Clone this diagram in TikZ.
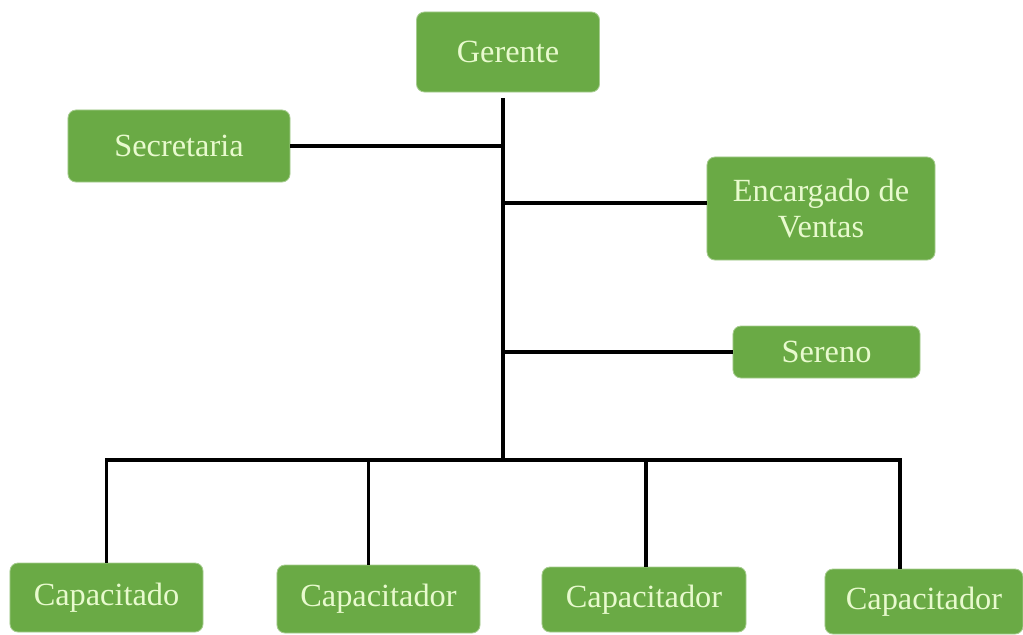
\documentclass[tikz,border=0pt]{standalone}
\usepackage{fontspec}
\setmainfont{Liberation Serif}
\definecolor{boxgreen}{RGB}{106,170,69}
\definecolor{boxtext}{RGB}{232,250,206}
\begin{document}
\begin{tikzpicture}[x=0.025cm,y=-0.025cm,
                    line width=2.6pt,main node/.style={rectangle,rounded corners=0.2cm,fill=boxgreen,draw=boxgreen!60!white,line width=0.6pt,text=boxtext,font=\fontsize{23}{26}\selectfont,align=center,inner sep=2pt}
                   ]
  \useasboundingbox (0,0) rectangle (1023,634);
  \node[main node,minimum width=4.575cm,minimum height=2cm] (ger) at (508,52) {Gerente};
  \node[main node,minimum width=5.55cm,minimum height=1.8cm] (sec) at (179,146) {Secretaria};
  \node[main node,minimum width=5.7cm,minimum height=2.575cm] (enc) at (821,208.5) {Encargado de\\Ventas};
  \node[main node,minimum width=4.675cm,minimum height=1.3cm] (ser) at (826.5,352) {Sereno};
  \node[main node,minimum width=4.825cm,minimum height=1.725cm] (cap1) at (106.5,597.5) {Capacitado};
  \node[main node,minimum width=5.075cm,minimum height=1.7cm] (cap2) at (378.5,599) {Capacitador};
  \node[main node,minimum width=5.1cm,minimum height=1.625cm] (cap3) at (644,599.5) {Capacitador};
  \node[main node,minimum width=4.95cm,minimum height=1.625cm] (cap4) at (924,601.5) {Capacitador};

  \coordinate (top) at (503,98);
  \coordinate (bus) at (503,460);

  \path%
   (top) edge (bus)
   (sec.east) edge (sec.east -| top)
   ([yshift=0.14cm]enc.west) edge ([yshift=0.14cm]enc.west -| top)
   (ser.west) edge (ser.west -| top);
  \draw (cap1.north) |- (bus);
  \draw (bus) -| ([xshift=-0.6cm]cap4.north);
  \draw ([xshift=-0.25cm]cap2.north) -- ([xshift=-0.25cm]cap2.north |- bus);
  \draw ([xshift=0.05cm]cap3.north) -- ([xshift=0.05cm]cap3.north |- bus);
 \end{tikzpicture}
\end{document}
